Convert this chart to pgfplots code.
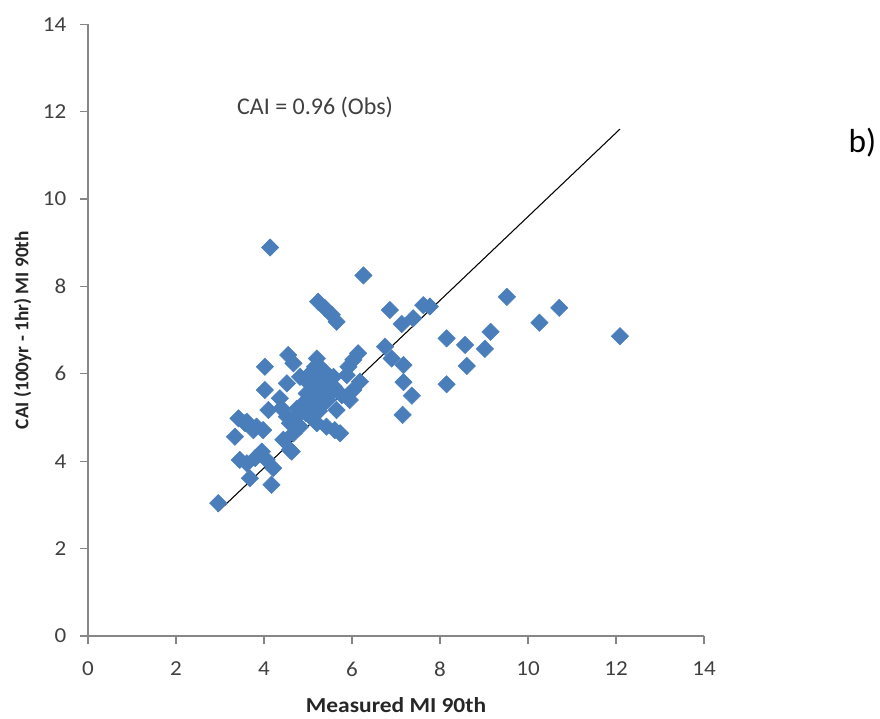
\documentclass[border=0pt]{standalone}
\usepackage{fontspec}
\setmainfont{Carlito}
\usepackage{pgfplots}
\pgfplotsset{compat=1.18}
\usepackage{pgfplotstable}
\definecolor{mkblue}{RGB}{74,126,187}
\definecolor{axgray}{RGB}{134,134,134}
\definecolor{txt}{RGB}{64,64,64}
\pgfplotstableread{
x y
2.96 3.04
4.14 8.89
6.26 8.25
5.23 7.65
5.39 7.50
5.54 7.35
5.65 7.19
6.86 7.46
7.13 7.14
7.39 7.27
7.62 7.57
7.77 7.54
8.15 6.81
8.15 5.76
6.75 6.62
6.90 6.35
7.17 6.20
7.17 5.81
7.36 5.50
7.15 5.06
6.14 6.47
6.03 6.32
5.92 6.16
5.88 5.97
6.18 5.82
6.03 5.63
5.95 5.40
5.65 5.17
4.55 6.43
4.67 6.24
4.02 6.16
5.20 6.35
5.16 6.16
4.02 5.63
4.52 5.78
4.36 5.44
4.82 5.93
4.10 5.17
3.42 4.98
3.57 4.87
3.76 4.71
3.98 4.71
3.34 4.56
3.45 4.03
3.61 3.95
3.80 4.07
3.95 4.22
4.06 4.03
3.68 3.61
4.21 3.84
4.17 3.46
4.63 4.22
4.44 4.49
4.59 4.87
4.74 5.02
4.52 5.02
4.40 5.21
4.82 4.79
5.05 5.02
5.20 4.87
5.42 4.79
5.61 4.71
5.73 4.64
5.05 6.01
5.20 5.93
5.42 5.78
5.12 5.71
4.97 5.55
5.27 5.48
5.50 5.55
5.35 5.32
5.12 5.25
4.89 5.32
5.58 5.71
5.42 6.01
5.23 6.20
5.58 5.93
5.77 5.51
4.67 4.64
4.59 4.26
3.83 4.79
3.61 4.90
5.30 5.90
5.00 5.80
5.35 5.60
5.45 5.40
5.15 5.45
5.25 5.15
5.50 5.85
5.30 6.05
4.95 5.10
4.75 5.20
9.52 7.76
10.71 7.51
10.26 7.17
12.09 6.86
8.57 6.66
9.15 6.96
9.02 6.57
8.61 6.18
}\pts
\begin{document}
\begin{tikzpicture}
\useasboundingbox (-66bp,-62.25bp) rectangle (594bp,477bp);
\begin{axis}[
  at={(0,0)}, anchor=origin,
  x=33bp, y=32.775bp,
  xmin=0, xmax=14, ymin=0, ymax=14,
  xtick={0,2,...,14}, ytick={0,2,...,14},
  axis lines=left,
  axis line style={-, draw=axgray, line width=0.8pt},
  tick style={draw=axgray, line width=0.8pt},
  tick align=outside,
  major tick length=6bp,
  ticklabel style={font=\fontsize{16bp}{18bp}\selectfont, text=txt},
  xticklabel style={xscale=1.08, yshift=-10bp},
  yticklabel style={xscale=1.08, xshift=-6bp},
  /pgf/number format/assume math mode=true,
  xlabel={\textbf{Measured MI 90th}},
  ylabel={\textbf{CAI (100yr - 1hr) MI 90th}},
  xlabel style={font=\fontsize{16bp}{18bp}\selectfont, text=black!85, xscale=1.1,
    at={(axis cs:7,0)}, anchor=base, yshift=-57.5bp},
  ylabel style={font=\fontsize{14.5bp}{16bp}\selectfont, text=black!85,
    at={(axis cs:0,7)}, anchor=center, yshift=49bp},
  clip=false,
]
\addplot[only marks, mark=square*, mark size=4.6bp, mark options={rotate=45, fill=mkblue, draw=mkblue}] table[x=x,y=y] {\pts};
\addplot[black, line width=0.8pt] coordinates {(2.95,2.84) (12.09,11.6)};
\node[font=\fontsize{18bp}{20bp}\selectfont, text=txt] at (axis cs:5.16,12.1) {CAI = 0.96 (Obs)};
\node[font=\fontsize{25bp}{28bp}\selectfont, text=black] at (axis cs:17.6,11.3) {b)};
\end{axis}
\end{tikzpicture}
\end{document}
